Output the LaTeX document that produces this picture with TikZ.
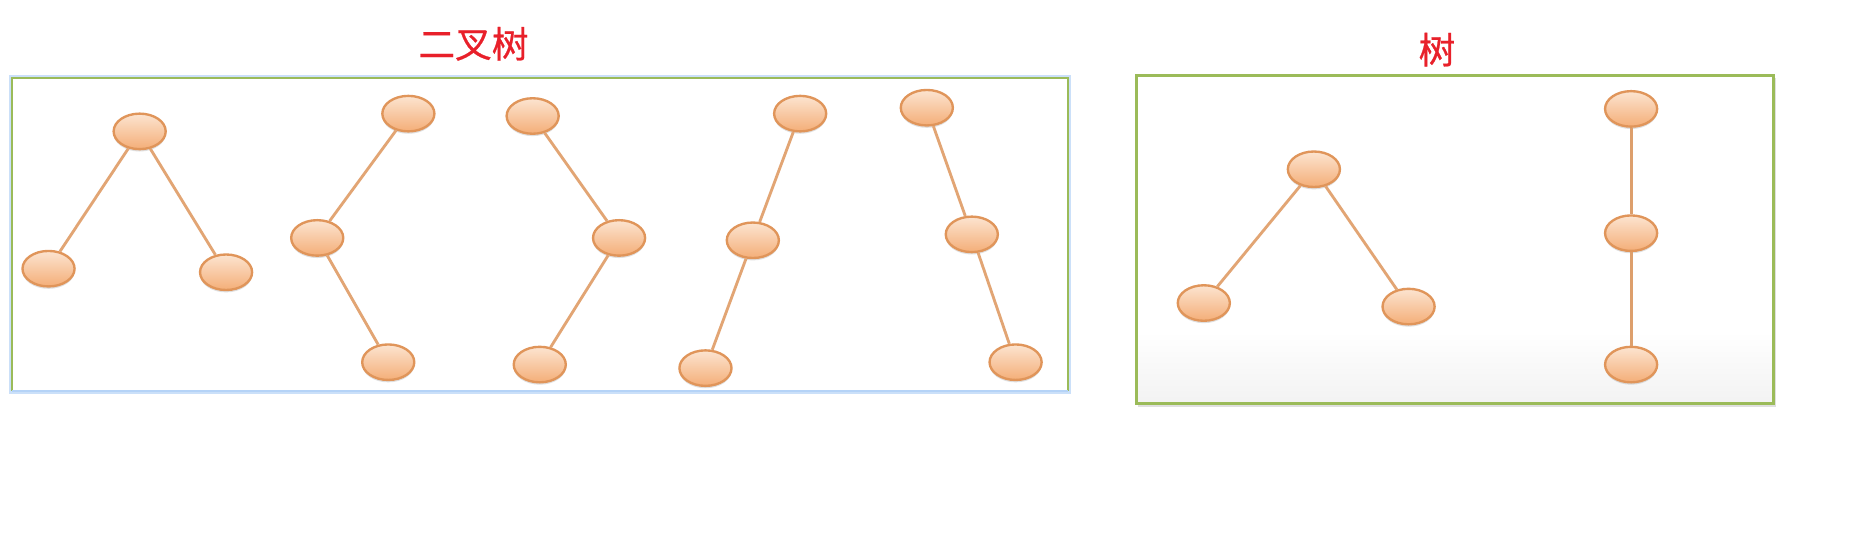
\documentclass[tikz,border=0pt]{standalone}
\usepackage{fontspec}
\newfontfamily\cjk[FakeBold=0.7]{Noto Sans CJK SC}
\usetikzlibrary{shapes.geometric,shadows,shadings}
\definecolor{nodeborder}{HTML}{E0955A}
\definecolor{nodetop}{HTML}{FCE4D0}
\definecolor{nodebot}{HTML}{F4AE78}
\definecolor{edgecol}{HTML}{E2A574}
\definecolor{boxgreen}{HTML}{9BBB59}
\definecolor{glowblue}{HTML}{B5D3F7}
\definecolor{titlered}{HTML}{E8202A}
\tikzset{
  tnode/.style={ellipse, draw=nodeborder, line width=2pt, minimum width=44pt, minimum height=30pt, inner sep=0pt,
    top color=nodetop, bottom color=nodebot,
    drop shadow={opacity=0.25, shadow xshift=0pt, shadow yshift=-2pt}},
  tedge/.style={draw=edgecol, line width=2.4pt},
  title/.style={font=\cjk\fontsize{31}{36}\selectfont, text=titlered, inner sep=0pt},
}
\begin{document}
\begin{tikzpicture}[x=1pt,y=-1pt]
\useasboundingbox (0,0) rectangle (1568,460);
% left box
\draw[glowblue, line width=5pt, opacity=0.7] (10,66) rectangle (902,330);
\fill[white] (10,66) rectangle (902,330);
\draw[boxgreen, line width=1.8pt] (10,330) -- (10,66) -- (902,66) -- (902,330);
\draw[glowblue, line width=1.8pt] (10,330) -- (902,330);
% right box
\fill[black!25, opacity=0.5] (961,66) rectangle (1500,344);
\fill[white] (960,64) rectangle (1498,341);
\shade[top color=white, bottom color=black!5] (960,280) rectangle (1498,341);
\draw[boxgreen, line width=2.6pt] (960,64) rectangle (1498,341);
% titles
\node[title] (t1) at (400,37) {二叉树};
\node[title] (t2) at (1214,42) {树};
% tree 1
\node[tnode] (a1) at (118,111) {};
\node[tnode] (a2) at (41,227) {};
\node[tnode] (a3) at (191,230) {};
% tree 2
\node[tnode] (b1) at (345,96) {};
\node[tnode] (b2) at (268,201) {};
\node[tnode] (b3) at (328,306) {};
% tree 3
\node[tnode] (c1) at (450,98) {};
\node[tnode] (c2) at (523,201) {};
\node[tnode] (c3) at (456,308) {};
% tree 4
\node[tnode] (d1) at (676,96) {};
\node[tnode] (d2) at (636,203) {};
\node[tnode] (d3) at (596,311) {};
% tree 5
\node[tnode] (e1) at (783,91) {};
\node[tnode] (e2) at (821,198) {};
\node[tnode] (e3) at (858,306) {};
% right trees
\node[tnode] (f1) at (1110,143) {};
\node[tnode] (f2) at (1017,256) {};
\node[tnode] (f3) at (1190,259) {};
\node[tnode] (g1) at (1378,92) {};
\node[tnode] (g2) at (1378,197) {};
\node[tnode] (g3) at (1378,308) {};
% edges
\path[tedge] (a1) -- (a2) (a1) -- (a3)
  (b1) -- (b2) (b2) -- (b3)
  (c1) -- (c2) (c2) -- (c3)
  (d1) -- (d2) (d2) -- (d3)
  (e1) -- (e2) (e2) -- (e3)
  (f1) -- (f2) (f1) -- (f3);
\path[tedge, draw=edgecol!85!brown] (g1) -- (g2) (g2) -- (g3);
\end{tikzpicture}
\end{document}
